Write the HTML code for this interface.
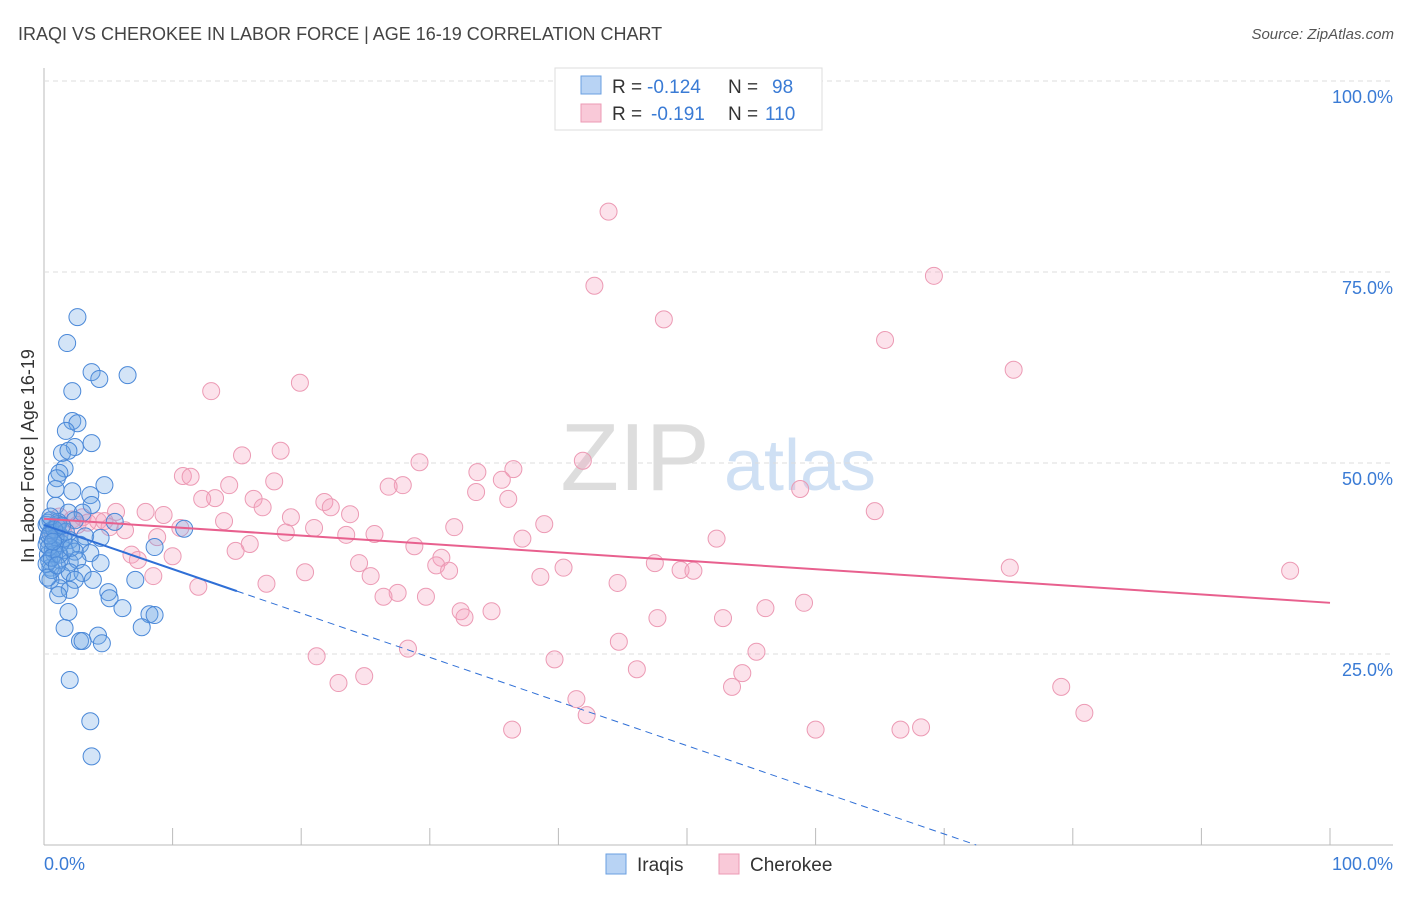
<!DOCTYPE html>
<html><head><meta charset="utf-8"><style>
body{margin:0;background:#fff;font-family:"Liberation Sans",sans-serif}
svg text{font-family:"Liberation Sans",sans-serif}
</style></head><body>
<svg id="c" width="1406" height="892">
<text x="18" y="40" font-size="18" fill="#444">IRAQI VS CHEROKEE IN LABOR FORCE | AGE 16-19 CORRELATION CHART</text>
<text x="1394" y="39" font-size="15" fill="#555" text-anchor="end" font-style="italic">Source: ZipAtlas.com</text>
<g>
<text x="635" y="490" font-size="96" fill="#ddd" text-anchor="middle" font-family="Liberation Serif,serif">ZIP</text>
<text x="800" y="490" font-size="72" fill="#cfe0f4" text-anchor="middle">atlas</text>
</g>
<g id="grid"></g>
<g id="pts"></g>
<g id="lines"></g>
<text x="34" y="456" font-size="18" fill="#333" text-anchor="middle" transform="rotate(-90 34 456)">In Labor Force | Age 16-19</text>
<g>
<rect x="555" y="68" width="267" height="62" fill="#fff" stroke="#ddd"/>
<rect x="581" y="76" width="20" height="18" fill="#b8d3f4" stroke="#6a9fe0"/>
<rect x="581" y="104" width="20" height="18" fill="#f9c9d8" stroke="#ec9ab4"/>
<text x="612" y="93" font-size="19" fill="#333">R =</text>
<text x="647" y="93" font-size="19" fill="#3a7bd5">-0.124</text>
<text x="728" y="93" font-size="19" fill="#333">N =</text>
<text x="772" y="93" font-size="19" fill="#3a7bd5">98</text>
<text x="612" y="120" font-size="19" fill="#333">R =</text>
<text x="651" y="120" font-size="19" fill="#3a7bd5">-0.191</text>
<text x="728" y="120" font-size="19" fill="#333">N =</text>
<text x="765" y="120" font-size="19" fill="#3a7bd5">110</text>
</g>
<g>
<rect x="606" y="854" width="20" height="20" fill="#b8d3f4" stroke="#6a9fe0"/>
<text x="637" y="871" font-size="19" fill="#333">Iraqis</text>
<rect x="719" y="854" width="20" height="20" fill="#f9c9d8" stroke="#ec9ab4"/>
<text x="750" y="871" font-size="19" fill="#333">Cherokee</text>
</g>
</svg>
<script>
const blueX=[2.6,1.8,3.7,4.3,6.5,2.2,2.2,2.6,1.7,3.7,2.4,1.4,1.9,1.6,1.2,1.0,2.2,0.9,4.7,3.6,3.7,0.9,1.9,3.0,0.5,1.1,2.4,5.5,10.9,0.6,1.2,0.3,2.0,3.2,4.4,2.8,0.9,1.6,2.4,0.3,3.6,8.6,1.2,2.0,2.6,0.5,4.4,1.4,2.0,3.0,0.5,2.4,3.8,7.1,1.2,2.0,5.0,5.1,1.1,6.1,1.9,8.2,8.6,7.6,1.6,4.2,2.8,3.0,4.5,2.0,3.6,3.7,0.2,0.2,0.5,0.8,1.0,0.4,1.3,0.6,0.3,1.5,0.7,0.2,1.1,0.9,0.4,1.7,0.6,0.3,1.2,0.8,0.5,2.1,1.0,0.4,0.7,1.4];
const blueY=[69.1,65.7,61.9,61.0,61.5,59.4,55.5,55.2,54.2,52.6,52.1,51.3,51.6,49.3,48.7,48.0,46.3,46.6,47.1,45.8,44.5,44.4,43.5,43.5,42.5,42.3,42.5,42.3,41.4,41.2,40.6,39.9,39.9,40.4,40.2,39.3,38.9,38.6,38.4,38.0,38.2,39.0,37.3,37.0,37.3,36.3,36.9,35.3,35.7,35.6,34.7,34.7,34.7,34.7,33.6,33.4,33.1,32.3,32.7,31.0,30.5,30.2,30.1,28.5,28.4,27.4,26.7,26.7,26.4,21.6,16.2,11.6,39.3,41.9,40.8,38.1,41.7,37.2,39.5,36.0,42.2,40.1,38.7,36.8,42.0,40.3,39.0,41.0,37.6,35.0,38.0,41.3,43.0,38.9,36.6,40.5,39.7,41.8];
const pinkX=[43.9,69.2,42.8,48.2,65.4,75.4,19.9,13.0,15.4,18.4,29.2,41.9,36.5,33.7,10.8,11.4,17.9,35.6,27.9,26.8,14.4,58.8,33.6,13.3,12.3,16.3,36.1,21.8,22.3,17.0,7.9,5.6,9.3,23.8,19.2,64.6,14.0,3.0,4.2,4.7,5.1,6.3,10.6,21.0,31.9,38.9,18.8,23.5,25.7,8.8,37.2,52.3,16.0,28.8,14.9,6.8,7.3,10.0,24.5,30.9,30.5,47.5,40.4,49.5,20.3,31.5,50.5,75.1,96.9,8.5,25.4,38.6,44.6,17.3,12.0,27.5,26.4,29.7,59.1,56.1,32.4,34.8,32.7,47.7,52.8,44.7,28.3,55.4,21.2,39.7,46.1,54.3,24.9,22.9,53.5,79.1,41.4,80.9,42.2,36.4,60.0,66.6,68.2,1.0,1.5,2.2,0.5,2.6,1.2,3.4,0.8];
const pinkY=[82.9,74.5,73.2,68.8,66.1,62.2,60.5,59.4,51.0,51.6,50.1,50.3,49.2,48.8,48.3,48.2,47.6,47.8,47.1,46.9,47.1,46.6,46.2,45.4,45.3,45.3,45.3,44.9,44.2,44.2,43.6,43.6,43.2,43.3,42.9,43.7,42.4,42.9,42.4,42.4,41.6,41.2,41.5,41.5,41.6,42.0,40.9,40.6,40.7,40.3,40.1,40.1,39.4,39.1,38.5,38.0,37.3,37.8,36.9,37.6,36.6,36.9,36.3,36.0,35.7,35.9,35.9,36.3,35.9,35.2,35.2,35.1,34.3,34.2,33.8,33.0,32.5,32.5,31.7,31.0,30.6,30.6,29.8,29.7,29.7,26.6,25.7,25.3,24.7,24.3,23.0,22.5,22.1,21.2,20.7,20.7,19.1,17.3,17.0,15.1,15.1,15.1,15.4,42.0,41.5,42.6,40.8,41.9,43.0,42.2,41.2];
const blueFit=[41.9,-0.578];
const pinkFit=[42.7,-0.11];
const yTicks=[100,75,50,25];
const xTicksPct=[0,10,20,30,40,50,60,70,80,90,100];
const NS="http://www.w3.org/2000/svg";
const X=v=>44+v*12.86, Y=v=>845-v*7.64;
function mk(tag,attrs,parent){const e=document.createElementNS(NS,tag);for(const k in attrs)e.setAttribute(k,attrs[k]);document.getElementById(parent).appendChild(e);return e;}
let e=mk('line',{x1:44,y1:68,x2:44,y2:845,stroke:'#bbb'},'grid');


e=mk('line',{x1:44,y1:845,x2:1393,y2:845,stroke:'#bbb'},'grid');


yTicks.forEach(t=>{
 let g=mk('line',{x1:44,y1:Y(t),x2:1393,y2:Y(t),stroke:'#ddd','stroke-dasharray':'5,4'},'grid');
 
 
 let l=mk('text',{x:1393,y:Y(t)+22,'font-size':18,fill:'#3a7bd5','text-anchor':'end'},'grid');l.textContent=t.toFixed(1)+'%';
 
 
});
xTicksPct.forEach(t=>{
 let g=mk('line',{x1:X(t),y1:828,x2:X(t),y2:845,stroke:'#bbb'},'grid');
 
 
});
let xl=mk('text',{x:44,y:870,'font-size':18,fill:'#3a7bd5'},'grid');xl.textContent='0.0%';


xl=mk('text',{x:1393,y:870,'font-size':18,fill:'#3a7bd5','text-anchor':'end'},'grid');xl.textContent='100.0%';


pinkX.forEach((x,i)=>{
 let c=mk('circle',{cx:X(x),cy:Y(pinkY[i]),r:8.5,fill:'rgba(244,160,188,0.3)',stroke:'#ec9ab4','stroke-width':1},'pts');
 
 
});
blueX.forEach((x,i)=>{
 let c=mk('circle',{cx:X(x),cy:Y(blueY[i]),r:8.5,fill:'rgba(110,165,230,0.3)',stroke:'#4a88d8','stroke-width':1},'pts');
 
 
});
let bl=mk('line',{x1:X(0),y1:Y(blueFit[0]),x2:X(15),y2:Y(blueFit[0]+blueFit[1]*15),stroke:'#2f6fd6','stroke-width':2},'lines');


const xz=-blueFit[0]/blueFit[1];
let bd=mk('line',{x1:X(15),y1:Y(blueFit[0]+blueFit[1]*15),x2:X(xz),y2:Y(0),stroke:'#2f6fd6','stroke-width':1,'stroke-dasharray':'7,5'},'lines');


let pl=mk('line',{x1:X(0),y1:Y(pinkFit[0]),x2:X(100),y2:Y(pinkFit[0]+pinkFit[1]*100),stroke:'#e8608e','stroke-width':2},'lines');


</script>
</body></html>
